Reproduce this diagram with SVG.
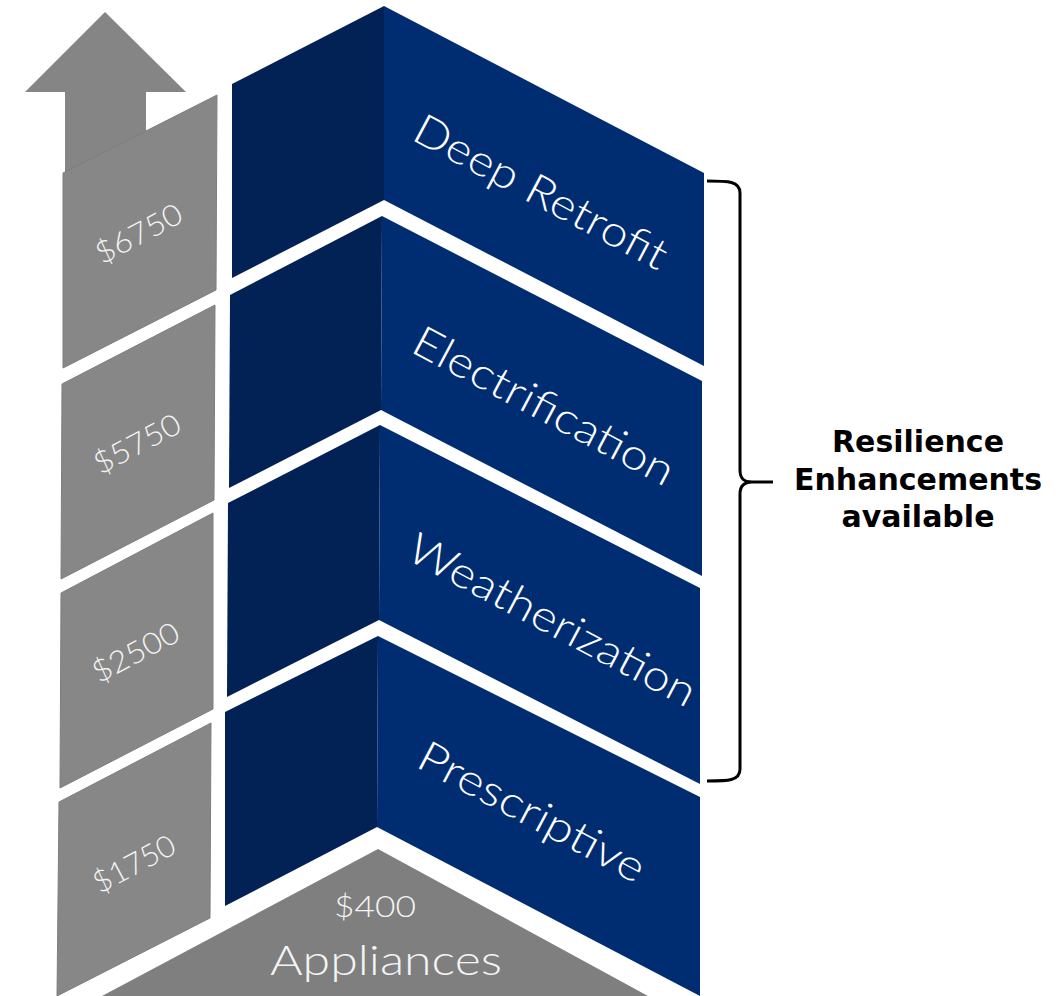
<svg xmlns="http://www.w3.org/2000/svg" width="1058" height="996" viewBox="0 0 1058 996">
<style>
.dark{fill:#022256}
.blue{fill:#002d72}
.gray{fill:#878787;stroke:#7e7e7e;stroke-width:1}
.lbl{font-family:Lato,"Open Sans","Liberation Sans",sans-serif;font-weight:300;fill:#ffffff;font-size:43px}
.price{font-family:Lato,"Open Sans","Liberation Sans",sans-serif;font-weight:300;fill:#f4f4f4;font-size:30px}
.note{font-family:"DejaVu Sans","Liberation Sans",sans-serif;font-weight:bold;fill:#000000;font-size:30px}
</style>
<rect width="1058" height="996" fill="#ffffff"/>

<g id="arrow">
<polygon points="105,12 186,92 146,92 146,140 65,180 65,92 25,92" fill="#858585"/>
</g>

<g id="price-6750">
<polygon class="gray" points="63,173 217,95 216,290 63,368"/>
<text class="price" text-anchor="middle" transform="translate(143.7,242.8) rotate(-28)" textLength="94" lengthAdjust="spacingAndGlyphs">$6750</text>
</g>
<g id="price-5750">
<polygon class="gray" points="62,384 215,305 214,500 61,579"/>
<text class="price" text-anchor="middle" transform="translate(142,453) rotate(-28)" textLength="94" lengthAdjust="spacingAndGlyphs">$5750</text>
</g>
<g id="price-2500">
<polygon class="gray" points="61,593 213,513 213,709 60,788"/>
<text class="price" text-anchor="middle" transform="translate(140.5,661.5) rotate(-28)" textLength="94" lengthAdjust="spacingAndGlyphs">$2500</text>
</g>
<g id="price-1750">
<polygon class="gray" points="59,802 211,723 210,918 57,996"/>
<text class="price" text-anchor="middle" transform="translate(139,873) rotate(-28)" textLength="89" lengthAdjust="spacingAndGlyphs">$1750</text>
</g>

<g id="deep-retrofit">
<polygon class="dark" points="232,84 384,6 384,200 232,278"/>
<polygon class="blue" points="384,6 704,173 704,366 384,200"/>
<text class="lbl" text-anchor="middle" transform="translate(534,205) rotate(28)" textLength="281" lengthAdjust="spacingAndGlyphs">Deep Retrofit</text>
</g>
<g id="electrification">
<polygon class="dark" points="230,295 382,216 381,410 229,488"/>
<polygon class="blue" points="382,216 702,381 702,576 381,410"/>
<text class="lbl" text-anchor="middle" transform="translate(537,419) rotate(28)" textLength="290" lengthAdjust="spacingAndGlyphs">Electrification</text>
</g>
<g id="weatherization">
<polygon class="dark" points="228,503 380,425 379,620 227,697"/>
<polygon class="blue" points="380,425 700,588 700,784 379,620"/>
<text class="lbl" text-anchor="middle" transform="translate(545.5,633) rotate(28)" textLength="320" lengthAdjust="spacingAndGlyphs">Weatherization</text>
</g>
<g id="prescriptive">
<polygon class="dark" points="225,712 378,636 377,827 225,906"/>
<polygon class="blue" points="378,636 700,797 700,996 377,827"/>
<text class="lbl" text-anchor="middle" transform="translate(525,825) rotate(28)" textLength="251" lengthAdjust="spacingAndGlyphs">Prescriptive</text>
</g>

<g id="appliances">
<polygon points="378,849 648,996 102,996" fill="#7f7f7f"/>
<text class="price" x="375" y="917" text-anchor="middle" textLength="82" lengthAdjust="spacingAndGlyphs">$400</text>
<text class="price" x="386" y="975" text-anchor="middle" textLength="232" lengthAdjust="spacingAndGlyphs" style="font-size:42px">Appliances</text>
</g>

<g id="connectors">
<path d="M707,181 C728,181 740,181 740,193 L740,470 C740,479 744,482 752,482 L773,482 M752,482 C744,482 740,486 740,494 L740,769 C740,781 728,781 707,781" fill="none" stroke="#000000" stroke-width="3"/>
</g>

<g id="resilience-note">
<text class="note" x="918" y="452" text-anchor="middle">Resilience</text>
<text class="note" x="918" y="490" text-anchor="middle">Enhancements</text>
<text class="note" x="918" y="527" text-anchor="middle">available</text>
</g>
</svg>
